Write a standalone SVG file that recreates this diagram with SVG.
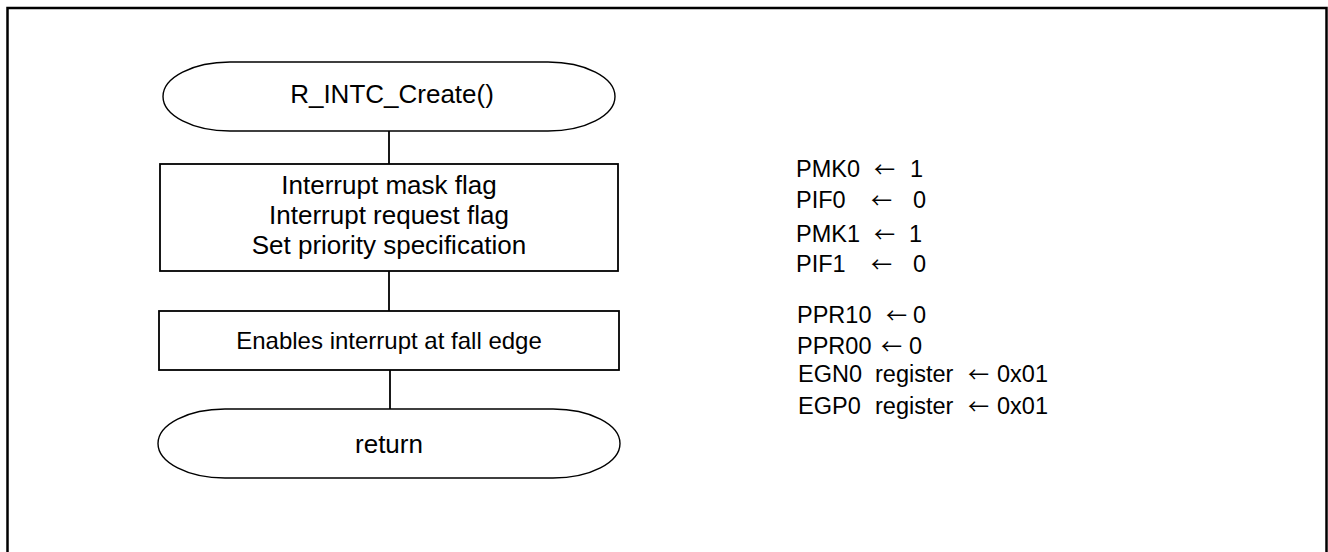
<svg xmlns="http://www.w3.org/2000/svg" width="1328" height="552" viewBox="0 0 1328 552">
<style>
.ln{fill:none;stroke:#000;stroke-width:1.8}
.term{fill:none;stroke:#000;stroke-width:1.4}
.frame{fill:none;stroke:#000;stroke-width:2.5}
.t{font-family:"Liberation Sans",Arial,sans-serif;fill:#000}
.c{text-anchor:middle}
.ar{font-family:"Noto Sans CJK JP","DejaVu Sans",sans-serif;font-size:21px}
</style>
<rect width="1328" height="552" fill="#fff"/>
<path class="frame" d="M7.5,560 V8 H1326.5 V560"/>
<g id="connectors">
<line class="ln" x1="389" y1="131" x2="389" y2="164"/>
<line class="ln" x1="389" y1="271" x2="389" y2="311"/>
<line class="ln" x1="390" y1="370" x2="390" y2="409"/>
</g>
<g id="start">
<rect class="term" x="163" y="62" width="452" height="69" rx="67" ry="34.5"/>
<text class="t c" x="392" y="103" font-size="26">R_INTC_Create()</text>
</g>
<g id="init">
<rect class="ln" x="160" y="164" width="458" height="107"/>
<text class="t c" font-size="26"><tspan x="389" y="194">Interrupt mask flag</tspan><tspan x="389" y="224">Interrupt request flag</tspan><tspan x="389" y="254">Set priority specification</tspan></text>
</g>
<g id="edge">
<rect class="ln" x="159" y="311" width="460" height="59"/>
<text class="t c" x="389" y="349" font-size="24">Enables interrupt at fall edge</text>
</g>
<g id="end">
<rect class="term" x="158" y="409" width="462" height="69" rx="67" ry="34.5"/>
<text class="t c" x="389" y="453" font-size="26">return</text>
</g>
<g id="notes" class="t" font-size="23.5">
<text y="177"><tspan x="796">PMK0</tspan><tspan class="ar" x="874">←</tspan><tspan x="910">1</tspan></text>
<text y="208"><tspan x="796">PIF0</tspan><tspan class="ar" x="871">←</tspan><tspan x="913">0</tspan></text>
<text y="242"><tspan x="796">PMK1</tspan><tspan class="ar" x="874">←</tspan><tspan x="909">1</tspan></text>
<text y="272"><tspan x="796">PIF1</tspan><tspan class="ar" x="871">←</tspan><tspan x="913">0</tspan></text>
<text y="323"><tspan x="797">PPR10</tspan><tspan class="ar" x="886">←</tspan><tspan x="913">0</tspan></text>
<text y="354"><tspan x="797">PPR00</tspan><tspan class="ar" x="881">←</tspan><tspan x="909">0</tspan></text>
<text y="382"><tspan x="798">EGN0</tspan><tspan x="875">register</tspan><tspan class="ar" x="968">←</tspan><tspan x="997">0x01</tspan></text>
<text y="414"><tspan x="798">EGP0</tspan><tspan x="875">register</tspan><tspan class="ar" x="968">←</tspan><tspan x="997">0x01</tspan></text>
</g>
</svg>
